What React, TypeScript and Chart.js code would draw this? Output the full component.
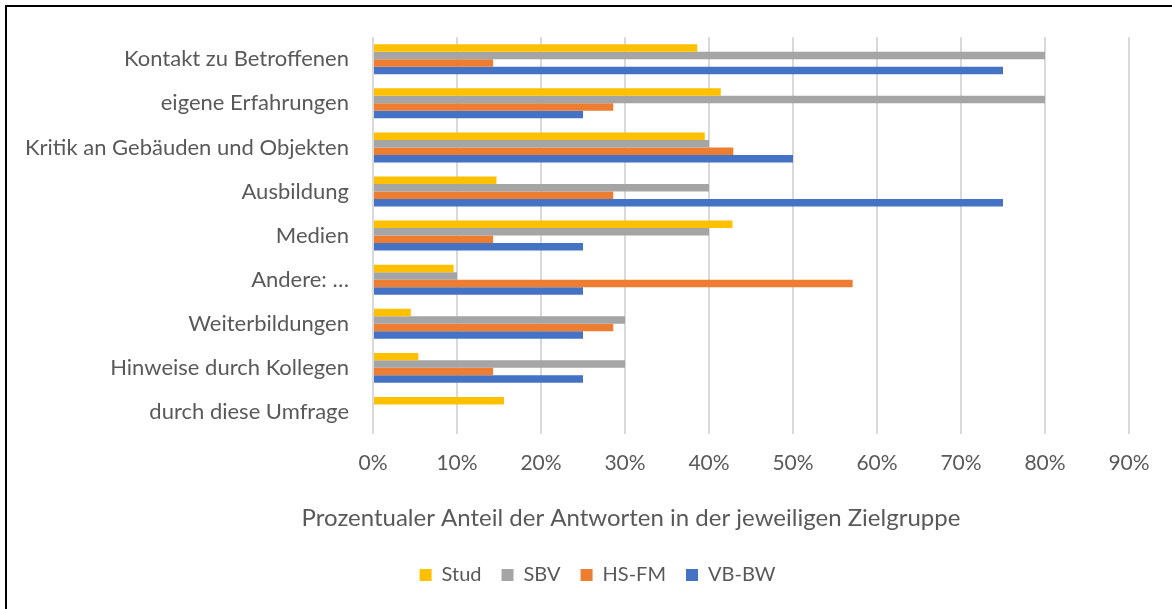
import React, { useEffect, useRef } from "react";
import { Chart, registerables } from "chart.js";

Chart.register(...registerables);

const categories = [
  "Kontakt zu Betroffenen",
  "eigene Erfahrungen",
  "Kritik an Gebäuden und Objekten",
  "Ausbildung",
  "Medien",
  "Andere: …",
  "Weiterbildungen",
  "Hinweise durch Kollegen",
  "durch diese Umfrage",
];
const seriesNames = ["Stud", "SBV", "HS-FM", "VB-BW"];
const stud = [38.6, 41.4, 39.5, 14.7, 42.8, 9.6, 4.5, 5.4, 15.6];
const sbv = [80, 80, 40, 40, 40, 10, 30, 30, 0];
const hsfm = [14.3, 28.6, 42.9, 28.6, 14.3, 57.1, 28.6, 14.3, 0];
const vbbw = [75, 25, 50, 75, 25, 25, 25, 25, 0];
const seriesColors = ["#FFC000", "#A5A5A5", "#ED7D31", "#4472C4"];
const xMin = 0;
const xMax = 90;
const xStep = 10;
const axisTitle = "Prozentualer Anteil der Antworten in der jeweiligen Zielgruppe";

const FONT = "Lato";
const TEXT = "#595959";

export default function App() {
  const ref = useRef<HTMLCanvasElement | null>(null);

  useEffect(() => {
    const canvas = ref.current;
    if (!canvas) return;
    const values = [stud, sbv, hsfm, vbbw];
    const titlePlugin = {
      id: "xAxisTitle",
      afterLayout(chart: any) {
        const lg = chart.legend;
        if (lg) {
          const shift = 597.5 - (lg.left + lg.right) / 2;
          lg.left += shift;
          lg.right += shift;
        }
      },
      afterDraw(chart: any) {
        const ctx = chart.ctx;
        ctx.save();
        ctx.font = `24px ${FONT}`;
        ctx.fillStyle = TEXT;
        ctx.textAlign = "center";
        ctx.textBaseline = "middle";
        ctx.fillText(axisTitle, 631, 518);
        ctx.restore();
      },
    };
    const chart = new Chart(canvas, {
      type: "bar",
      data: {
        labels: categories,
        datasets: seriesNames.map((name, i) => ({
          label: name,
          data: values[i],
          backgroundColor: seriesColors[i],
          borderWidth: 0,
          categoryPercentage: 0.68,
          barPercentage: 1,
        })),
      },
      options: {
        indexAxis: "y",
        responsive: false,
        animation: false,
        layout: { padding: { top: 34, left: 0, right: 43, bottom: 14 } },
        plugins: {
          legend: {
            position: "bottom",
            labels: {
              boxWidth: 12,
              boxHeight: 12,
              padding: 20,
              color: TEXT,
              font: { family: FONT, size: 20 },
            },
          },
          tooltip: { enabled: false },
        },
        scales: {
          x: {
            min: xMin,
            max: xMax,
            ticks: {
              stepSize: xStep,
              color: TEXT,
              padding: 17,
              font: { family: FONT, size: 21 },
              callback: (v: any) => `${v}%`,
            },
            grid: { color: "#D9D9D9", lineWidth: 2, drawTicks: false },
            border: { display: false },
            afterFit: (scale: any) => {
              scale.height = 111;
            },
          },
          y: {
            ticks: {
              color: TEXT,
              padding: 24,
              font: { family: FONT, size: 22 },
            },
            grid: { display: false, drawTicks: false },
            border: { display: false },
            afterFit: (scale: any) => {
              scale.width = 373;
            },
          },
        },
      },
      plugins: [titlePlugin],
    });
    return () => chart.destroy();
  }, []);

  return (
    <>
      <canvas
        ref={ref}
        width={1172}
        height={609}
        style={{ position: "fixed", left: 0, top: 0, width: 1172, height: 609, background: "#fff" }}
      />
      <div
        style={{
          position: "fixed",
          left: 5,
          top: 5,
          width: 2000,
          height: 2000,
          borderLeft: "2px solid #000",
          borderTop: "2px solid #000",
          pointerEvents: "none",
        }}
      />
    </>
  );
}
